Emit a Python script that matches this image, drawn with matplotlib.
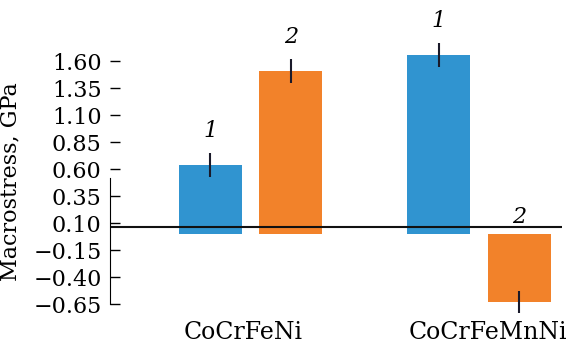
import matplotlib.pyplot as plt
import numpy as np

alloys = ['CoCrFeNi', 'CoCrFeMnNi']
stress1 = [0.64, 1.66]
stress2 = [1.51, -0.63]
err1 = [0.11, 0.11]
err2 = [0.11, 0.10]
yticks = [-0.65, -0.40, -0.15, 0.10, 0.35, 0.60, 0.85, 1.10, 1.35, 1.60]

plt.rcParams['font.family'] = 'DejaVu Serif'

fig = plt.figure(figsize=(5.68, 3.45), dpi=100)
ax = fig.add_axes([0.1937, 0.087, 0.7953, 0.884])

x = np.arange(len(alloys))
w = 0.276
off = 0.176
ax.bar(x - off, stress1, w, color='#3094D0')
ax.bar(x + off, stress2, w, color='#F2822A')
ax.errorbar(x - off, stress1, yerr=err1, fmt='none', ecolor='#1a1a2a', elinewidth=1.5, capsize=0)
ax.errorbar(x + off, stress2, yerr=err2, fmt='none', ecolor='#1a1a2a', elinewidth=1.5, capsize=0)

# bar numbers
for i in range(len(alloys)):
    ax.text(x[i] - off, stress1[i] + err1[i] + 0.2, '1', style='italic',
            ha='center', va='center', fontsize=16)
    if stress2[i] > 0:
        ax.text(x[i] + off, stress2[i] + err2[i] + 0.2, '2', style='italic',
                ha='center', va='center', fontsize=16)
    else:
        ax.text(x[i] + off, 0.16, '2', style='italic',
                ha='center', va='center', fontsize=16)

ax.axhline(0.065, color='#111111', linewidth=1.5)

ax.set_xlim(-0.615, 1.363)
ax.set_ylim(-0.75, 2.074)
ax.set_yticks(yticks)
ax.set_yticklabels(['%.2f' % v if v >= 0 else '\u2212%.2f' % -v for v in yticks])
ax.tick_params(axis='y', direction='in', length=7, width=1, pad=6, labelsize=16)
ax.set_xticks([-0.03, 1.04])
ax.set_xticklabels(alloys, fontsize=17)
ax.tick_params(axis='x', length=0, pad=4)

for s in ['top', 'right', 'bottom']:
    ax.spines[s].set_visible(False)
ax.spines['left'].set_bounds(-0.65, 0.52)

ax.set_ylabel('Macrostress, GPa', fontsize=16)
ax.yaxis.set_label_coords(-0.195, 0.436)

plt.savefig('out.png', dpi=100)
